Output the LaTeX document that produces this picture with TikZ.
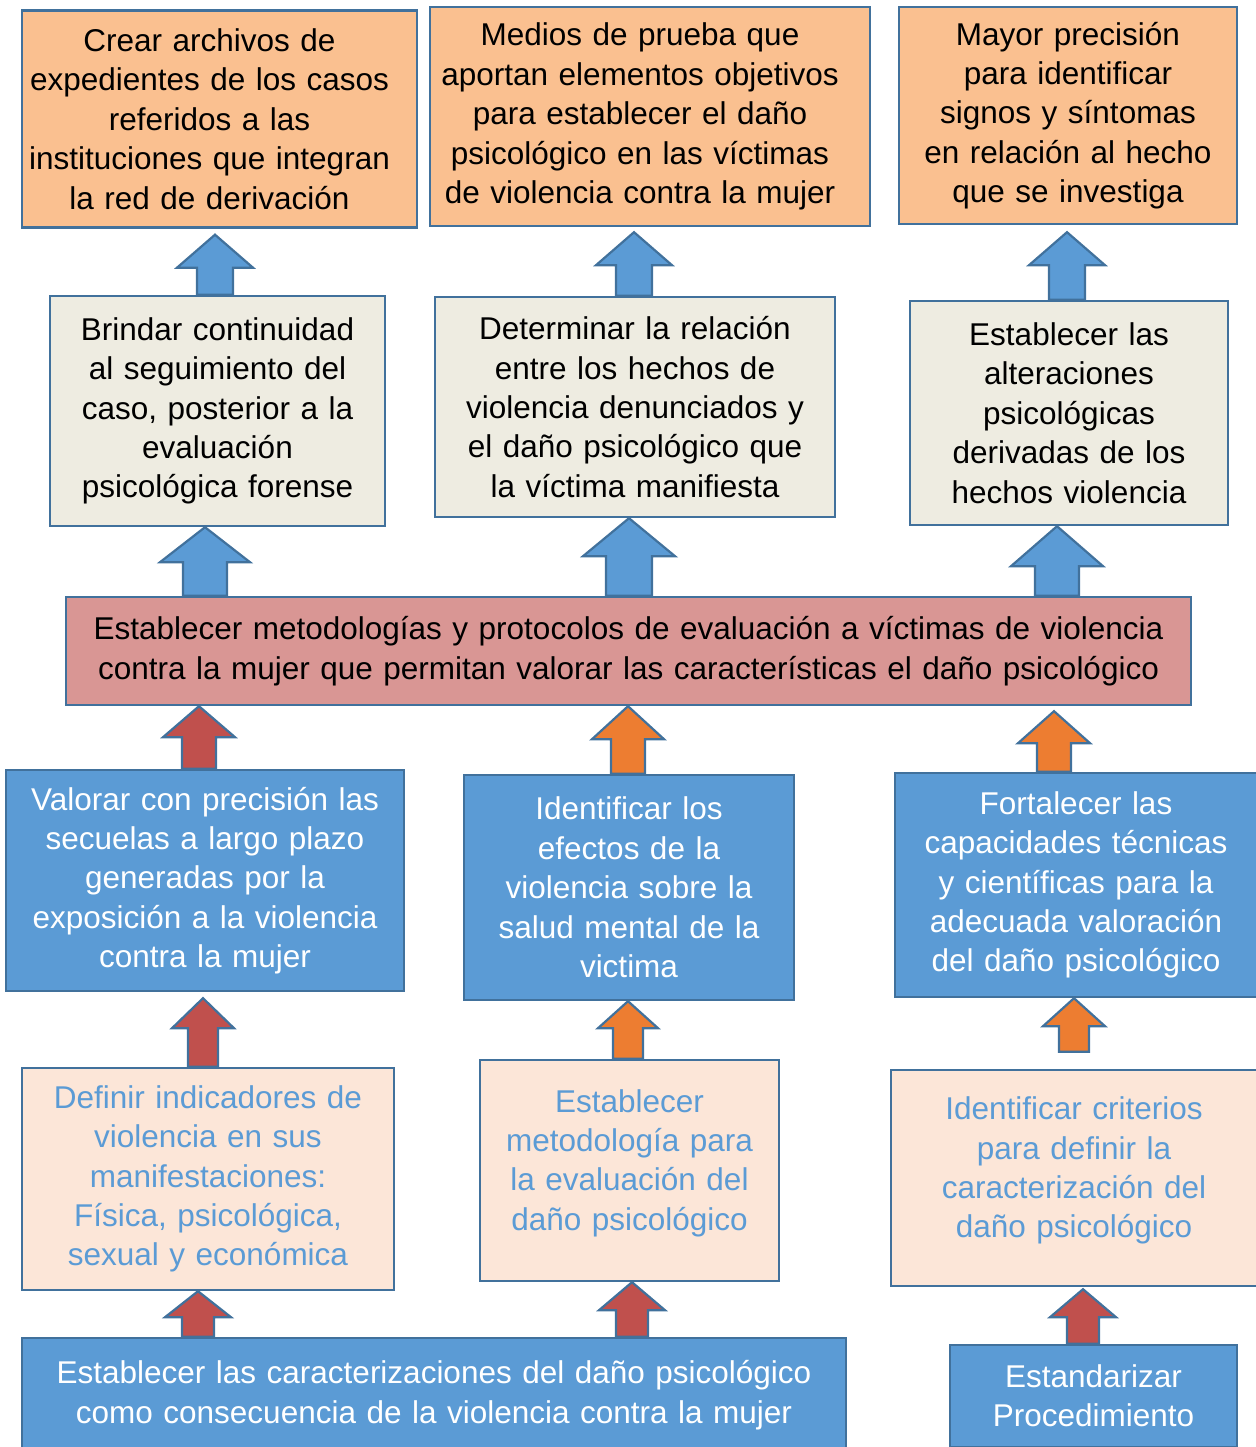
\documentclass[tikz,border=0pt]{standalone}
\usepackage{fontspec}
\setmainfont{Liberation Sans}
\usetikzlibrary{calc}
\definecolor{boxline}{HTML}{41719C}
\definecolor{peach}{HTML}{FAC090}
\definecolor{beige}{HTML}{EEECE1}
\definecolor{rose}{HTML}{D99694}
\definecolor{steel}{HTML}{5B9BD5}
\definecolor{cream}{HTML}{FCE6D8}
\definecolor{brick}{HTML}{C0504D}
\definecolor{tang}{HTML}{ED7D31}
% block arrow: colour, x, lower anchor, upper anchor, half head, head length, half shaft
\newcommand{\uparr}[7]{\draw[arr,fill=#1] let \p1=(#3),\p2=(#4) in
 (#2pt-#7pt,\y1)--(#2pt-#7pt,\y2-#6pt)--(#2pt-#5pt,\y2-#6pt)--(#2pt,\y2)--(#2pt+#5pt,\y2-#6pt)--(#2pt+#7pt,\y2-#6pt)--(#2pt+#7pt,\y1)--cycle;}
% text block set a little left of the box centre
\newcommand{\offtext}[2]{\parbox{#1}{\centering #2}\rule{20pt}{0pt}}
\begin{document}
\begin{tikzpicture}[x=1pt,y=-1pt,
 box/.style={draw=boxline,line width=2.4pt,inner sep=0pt,align=center,font=\fontsize{31.5}{39.4}\selectfont},
 arr/.style={draw=boxline,line width=2.2pt,line join=miter}]
\useasboundingbox (0,0) rectangle (1255,1447);
% top row
\node[box,fill=peach,minimum width=395pt,minimum height=217pt,text width=387pt](a1) at (219.5,119){\offtext{365pt}{Crear archivos de\\expedientes de los casos\\referidos a las\\instituciones que integran\\la red de derivación}};
\node[box,fill=peach,minimum width=440pt,minimum height=219pt,text width=432pt](a2) at (650,116.5){\offtext{410pt}{Medios de prueba que\\aportan elementos objetivos\\para establecer el daño\\psicológico en las víctimas\\de violencia contra la mujer}};
\node[box,fill=peach,minimum width=338pt,minimum height=217pt,text width=330pt](a3) at (1068,115.5){Mayor precisión\\para identificar\\signos y síntomas\\en relación al hecho\\que se investiga};
% second row
\node[box,fill=beige,minimum width=335pt,minimum height=230pt,text width=327pt](b1) at (217.5,411){Brindar continuidad\\al seguimiento del\\caso, posterior a la\\evaluación\\psicológica forense};
\node[box,fill=beige,minimum width=400pt,minimum height=220pt,text width=392pt](b2) at (635,407){Determinar la relación\\entre los hechos de\\violencia denunciados y\\el daño psicológico que\\la víctima manifiesta};
\node[box,fill=beige,minimum width=318pt,minimum height=224pt,text width=310pt](b3) at (1069,413){Establecer las\\alteraciones\\psicológicas\\derivadas de los\\hechos violencia};
% main objective
\node[box,fill=rose,minimum width=1125pt,minimum height=108pt,text width=1117pt](m) at (628.5,651){Establecer metodologías y protocolos de evaluación a víctimas de violencia\\contra la mujer que permitan valorar las características el daño psicológico};
% third row
\node[box,fill=steel,text=white,minimum width=398pt,minimum height=221pt,text width=390pt](c1) at (205,880.5){Valorar con precisión las\\secuelas a largo plazo\\generadas por la\\exposición a la violencia\\contra la mujer};
\node[box,fill=steel,text=white,minimum width=330pt,minimum height=225pt,text width=322pt](c2) at (629,887.5){Identificar los\\efectos de la\\violencia sobre la\\salud mental de la\\victima};
\node[box,fill=steel,text=white,minimum width=362pt,minimum height=224pt,text width=354pt](c3) at (1076,885){Fortalecer las\\capacidades técnicas\\y científicas para la\\adecuada valoración\\del daño psicológico};
% fourth row
\node[box,fill=cream,text=steel,minimum width=372pt,minimum height=222pt,text width=364pt](d1) at (208,1179){Definir indicadores de\\violencia en sus\\manifestaciones:\\Física, psicológica,\\sexual y económica};
\node[box,fill=cream,text=steel,minimum width=299pt,minimum height=221pt,text width=291pt](d2) at (629.5,1170.5){Establecer\\metodología para\\la evaluación del\\daño psicológico\\[-18pt]\mbox{}};
\node[box,fill=cream,text=steel,minimum width=366pt,minimum height=216pt,text width=358pt](d3) at (1074,1178){Identificar criterios\\para definir la\\caracterización del\\daño psicológico\\[-18pt]\mbox{}};
% bottom row
\node[box,fill=steel,text=white,minimum width=824pt,minimum height=114pt,text width=816pt](e1) at (434,1395){Establecer las caracterizaciones del daño psicológico\\como consecuencia de la violencia contra la mujer};
\node[box,fill=steel,text=white,minimum width=287pt,minimum height=102pt,text width=279pt](e2) at (1093.5,1396){Estandarizar\\Procedimiento};
% arrows
\uparr{steel}{215}{b1.north}{[yshift=-6pt]a1.south}{38}{33}{18}
\uparr{steel}{634}{b2.north}{[yshift=-5pt]a2.south}{38}{33}{18}
\uparr{steel}{1067}{b3.north}{[yshift=-7pt]a3.south}{38}{33}{18}
\uparr{steel}{205}{m.north}{b1.south}{45}{35}{22}
\uparr{steel}{629}{m.north}{b2.south}{46}{38}{23}
\uparr{steel}{1057}{m.north}{b3.south}{46}{40}{22}
\uparr{brick}{199}{c1.north}{m.south}{36}{31}{17}
\uparr{tang}{628}{c2.north}{m.south}{36}{33}{17}
\uparr{tang}{1054}{c3.north}{[yshift=-5pt]m.south}{36}{32}{17}
\uparr{brick}{203}{d1.north}{[yshift=-6pt]c1.south}{31}{30}{15}
\uparr{tang}{628}{d2.north}{c2.south}{30}{27}{15}
\uparr{tang}{1074}{[yshift=17pt]d3.north}{c3.south}{31}{28}{15}
\uparr{brick}{198}{e1.north}{d1.south}{33}{26}{16}
\uparr{brick}{632}{e1.north}{d2.south}{33}{28}{16}
\uparr{brick}{1083}{e2.north}{[yshift=-2pt]d3.south}{33}{28}{16}
\end{tikzpicture}
\end{document}
